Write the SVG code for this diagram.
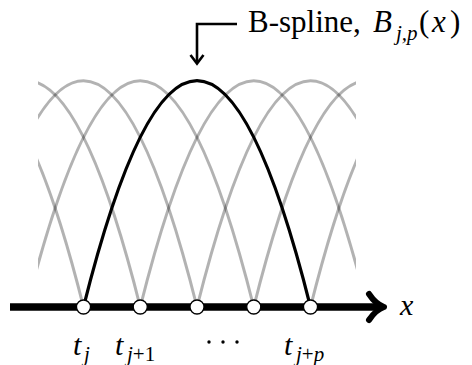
<svg xmlns="http://www.w3.org/2000/svg" width="472" height="365" viewBox="0 0 472 365">
  <style>
    .gray { fill: none; stroke: #000; stroke-opacity: 0.3; stroke-width: 3; }
    .spline { fill: none; stroke: #000; stroke-width: 3.2; }
    .knot { fill: #fff; stroke: #000; stroke-width: 1.3; }
    .rm { font-family: "Liberation Serif", "Times New Roman", serif; fill: #000; }
    .it { font-family: "Liberation Serif", "Times New Roman", serif; font-style: italic; fill: #000; }
  </style>
  <defs>
    <clipPath id="clipGray">
      <rect x="38" y="0" width="318" height="307"/>
    </clipPath>
  </defs>

  <g id="basis-curves" clip-path="url(#clipGray)">
    <path class="gray" d="M -143.5 307 Q -30 -145.6 83.5 307"/>
    <path class="gray" d="M -86.75 307 Q 26.75 -145.6 140.25 307"/>
    <path class="gray" d="M -30 307 Q 83.5 -145.6 197 307"/>
    <path class="gray" d="M 26.75 307 Q 140.25 -145.6 253.75 307"/>
    <path class="gray" d="M 140.25 307 Q 253.75 -145.6 367.25 307"/>
    <path class="gray" d="M 197 307 Q 310.5 -145.6 424 307"/>
    <path class="gray" d="M 253.75 307 Q 367.25 -145.6 480.75 307"/>
    <path class="gray" d="M 310.5 307 Q 424 -145.6 537.5 307"/>
  </g>

  <g id="bspline">
    <path class="spline" d="M 83.5 307 Q 197 -145.6 310.5 307"/>
  </g>

  <g id="axis">
    <line x1="10" y1="307" x2="381" y2="307" stroke="#000" stroke-width="7.5"/>
    <path d="M 369 294 C 373 300 378 305 384 307 C 378 309 373 314 369 320" fill="none" stroke="#000" stroke-width="6" stroke-linecap="round" stroke-linejoin="round"/>
    <text class="it" x="400" y="315" font-size="30">x</text>
  </g>

  <g id="knots">
    <g id="knot-tj"><circle class="knot" cx="83.5" cy="307" r="7"/></g>
    <g id="knot-tj1"><circle class="knot" cx="140.25" cy="307" r="7"/></g>
    <g id="knot-mid"><circle class="knot" cx="197" cy="307" r="7"/></g>
    <g id="knot-4"><circle class="knot" cx="253.75" cy="307" r="7"/></g>
    <g id="knot-tjp"><circle class="knot" cx="310.5" cy="307" r="7"/></g>
  </g>

  <g id="knot-labels">
    <text class="it" x="73" y="355" font-size="30">t</text>
    <text class="it" x="84" y="361" font-size="21">j</text>

    <text class="it" x="115" y="355" font-size="30">t</text>
    <text x="127" y="361" font-size="21" class="rm"><tspan class="it">j</tspan>+1</text>

    <circle cx="209" cy="342" r="1.7" fill="#000"/>
    <circle cx="223" cy="342" r="1.7" fill="#000"/>
    <circle cx="237" cy="342" r="1.7" fill="#000"/>

    <text class="it" x="284" y="355" font-size="30">t</text>
    <text x="296" y="361" font-size="21" class="rm"><tspan class="it">j</tspan>+<tspan class="it">p</tspan></text>
  </g>

  <g id="callout">
    <path d="M 237 24 H 197 V 62" fill="none" stroke="#000" stroke-width="2.6"/>
    <path d="M 190.5 55 L 197 63.5 L 203.5 55" fill="none" stroke="#000" stroke-width="2.6"/>
    <text class="rm" x="248" y="32" font-size="31">B-spline,</text>
    <text class="it" x="373" y="32" font-size="31">B</text>
    <text class="it" x="396" y="40" font-size="21">j,p</text>
    <text class="rm" x="419" y="32" font-size="31">(</text>
    <text class="it" x="432" y="32" font-size="31">x</text>
    <text class="rm" x="450" y="32" font-size="31">)</text>
  </g>
</svg>
